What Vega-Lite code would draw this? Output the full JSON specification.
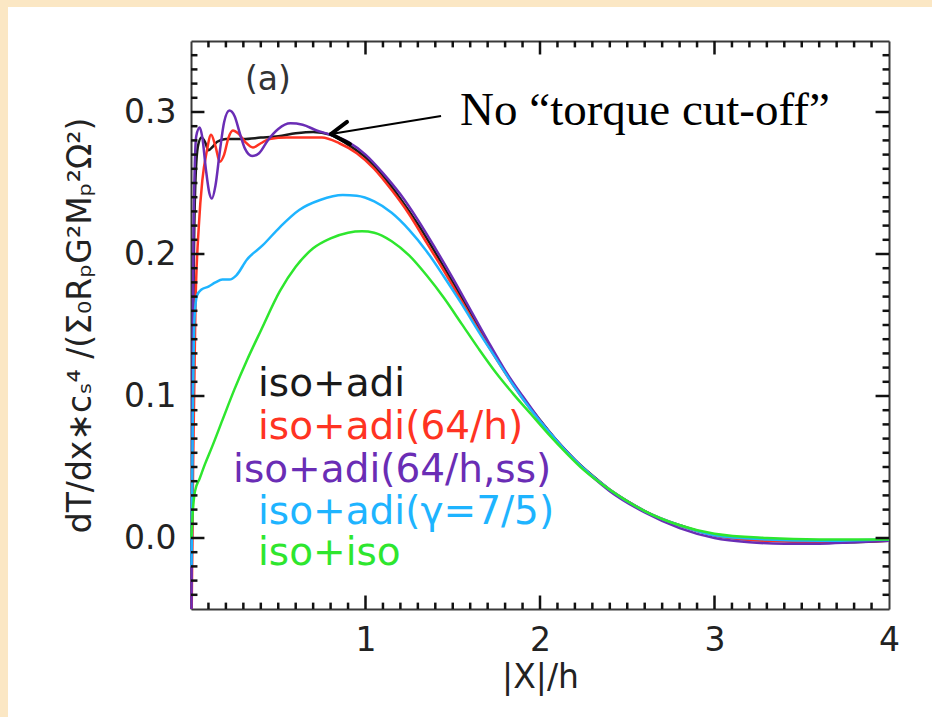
{
  "$schema": "https://vega.github.io/schema/vega-lite/v6.json",
  "width": 924,
  "height": 710,
  "autosize": {"type": "none"},
  "padding": {"left": 8, "top": 7, "right": 0, "bottom": 0},
  "background": "#fbe7c4",
  "config": {
    "view": {"fill": "white", "stroke": null},
    "axis": {
      "grid": false,
      "domainColor": "#3a3a3a",
      "domainWidth": 2,
      "labelFont": "DejaVu Sans",
      "labelFontSize": 33,
      "labelColor": "#222222",
      "titleFont": "DejaVu Sans",
      "titleFontSize": 33,
      "titleFontWeight": "normal",
      "titleColor": "#222222"
    }
  },
  "datasets": {
    "curves": [
      {"s":"a","x":0.003,"y":-0.05},{"s":"a","x":0.008,"y":0.06},{"s":"a","x":0.015,"y":0.18},{"s":"a","x":0.025,"y":0.25},{"s":"a","x":0.04,"y":0.276},{"s":"a","x":0.06,"y":0.282},{"s":"a","x":0.08,"y":0.279},{"s":"a","x":0.10,"y":0.273},{"s":"a","x":0.12,"y":0.275},{"s":"a","x":0.15,"y":0.279},{"s":"a","x":0.20,"y":0.281},{"s":"a","x":0.30,"y":0.281},{"s":"a","x":0.40,"y":0.282},{"s":"a","x":0.50,"y":0.283},{"s":"a","x":0.60,"y":0.285},{"s":"a","x":0.70,"y":0.286},{"s":"a","x":0.80,"y":0.284},{"s":"a","x":0.90,"y":0.277},{"s":"a","x":1.00,"y":0.268},{"s":"a","x":1.10,"y":0.255},{"s":"a","x":1.20,"y":0.239},{"s":"a","x":1.30,"y":0.221},{"s":"a","x":1.40,"y":0.201},{"s":"a","x":1.50,"y":0.180},{"s":"a","x":1.60,"y":0.159},{"s":"a","x":1.70,"y":0.137},{"s":"a","x":1.80,"y":0.117},{"s":"a","x":1.90,"y":0.099},{"s":"a","x":2.00,"y":0.083},{"s":"a","x":2.10,"y":0.068},{"s":"a","x":2.20,"y":0.055},{"s":"a","x":2.30,"y":0.044},{"s":"a","x":2.40,"y":0.034},{"s":"a","x":2.50,"y":0.026},{"s":"a","x":2.60,"y":0.019},{"s":"a","x":2.70,"y":0.013},{"s":"a","x":2.80,"y":0.009},{"s":"a","x":2.90,"y":0.005},{"s":"a","x":3.00,"y":0.002},{"s":"a","x":3.20,"y":-0.001},{"s":"a","x":3.40,"y":-0.002},{"s":"a","x":3.60,"y":-0.003},{"s":"a","x":3.80,"y":-0.003},{"s":"a","x":4.00,"y":-0.002},
      {"s":"b","x":0.004,"y":-0.05},{"s":"b","x":0.012,"y":0.05},{"s":"b","x":0.025,"y":0.16},{"s":"b","x":0.045,"y":0.22},{"s":"b","x":0.065,"y":0.252},{"s":"b","x":0.09,"y":0.272},{"s":"b","x":0.115,"y":0.284},{"s":"b","x":0.14,"y":0.276},{"s":"b","x":0.165,"y":0.265},{"s":"b","x":0.19,"y":0.270},{"s":"b","x":0.215,"y":0.282},{"s":"b","x":0.24,"y":0.287},{"s":"b","x":0.27,"y":0.285},{"s":"b","x":0.31,"y":0.279},{"s":"b","x":0.355,"y":0.275},{"s":"b","x":0.40,"y":0.278},{"s":"b","x":0.45,"y":0.281},{"s":"b","x":0.55,"y":0.282},{"s":"b","x":0.65,"y":0.282},{"s":"b","x":0.75,"y":0.282},{"s":"b","x":0.85,"y":0.278},{"s":"b","x":0.95,"y":0.271},{"s":"b","x":1.05,"y":0.260},{"s":"b","x":1.15,"y":0.245},{"s":"b","x":1.25,"y":0.228},{"s":"b","x":1.35,"y":0.208},{"s":"b","x":1.45,"y":0.188},{"s":"b","x":1.55,"y":0.167},{"s":"b","x":1.65,"y":0.146},{"s":"b","x":1.75,"y":0.126},{"s":"b","x":1.85,"y":0.107},{"s":"b","x":1.95,"y":0.090},{"s":"b","x":2.05,"y":0.075},{"s":"b","x":2.15,"y":0.061},{"s":"b","x":2.25,"y":0.049},{"s":"b","x":2.40,"y":0.034},{"s":"b","x":2.60,"y":0.019},{"s":"b","x":2.80,"y":0.009},{"s":"b","x":3.00,"y":0.002},{"s":"b","x":3.30,"y":-0.002},{"s":"b","x":3.60,"y":-0.003},{"s":"b","x":4.00,"y":-0.002},
      {"s":"c","x":0.003,"y":-0.05},{"s":"c","x":0.008,"y":0.10},{"s":"c","x":0.015,"y":0.22},{"s":"c","x":0.03,"y":0.283},{"s":"c","x":0.05,"y":0.289},{"s":"c","x":0.065,"y":0.282},{"s":"c","x":0.085,"y":0.260},{"s":"c","x":0.105,"y":0.243},{"s":"c","x":0.12,"y":0.239},{"s":"c","x":0.14,"y":0.248},{"s":"c","x":0.165,"y":0.272},{"s":"c","x":0.19,"y":0.293},{"s":"c","x":0.22,"y":0.301},{"s":"c","x":0.25,"y":0.297},{"s":"c","x":0.28,"y":0.285},{"s":"c","x":0.31,"y":0.274},{"s":"c","x":0.35,"y":0.269},{"s":"c","x":0.39,"y":0.271},{"s":"c","x":0.44,"y":0.280},{"s":"c","x":0.50,"y":0.288},{"s":"c","x":0.57,"y":0.292},{"s":"c","x":0.64,"y":0.291},{"s":"c","x":0.72,"y":0.287},{"s":"c","x":0.80,"y":0.284},{"s":"c","x":0.90,"y":0.279},{"s":"c","x":1.00,"y":0.270},{"s":"c","x":1.10,"y":0.257},{"s":"c","x":1.20,"y":0.242},{"s":"c","x":1.30,"y":0.224},{"s":"c","x":1.40,"y":0.204},{"s":"c","x":1.50,"y":0.183},{"s":"c","x":1.60,"y":0.161},{"s":"c","x":1.70,"y":0.139},{"s":"c","x":1.80,"y":0.118},{"s":"c","x":1.90,"y":0.100},{"s":"c","x":2.00,"y":0.083},{"s":"c","x":2.10,"y":0.068},{"s":"c","x":2.20,"y":0.055},{"s":"c","x":2.30,"y":0.043},{"s":"c","x":2.40,"y":0.033},{"s":"c","x":2.60,"y":0.018},{"s":"c","x":2.80,"y":0.007},{"s":"c","x":3.00,"y":0.000},{"s":"c","x":3.20,"y":-0.003},{"s":"c","x":3.40,"y":-0.004},{"s":"c","x":3.60,"y":-0.004},{"s":"c","x":3.80,"y":-0.003},{"s":"c","x":4.00,"y":-0.002},
      {"s":"d","x":0.003,"y":-0.02},{"s":"d","x":0.01,"y":0.08},{"s":"d","x":0.02,"y":0.155},{"s":"d","x":0.035,"y":0.171},{"s":"d","x":0.06,"y":0.175},{"s":"d","x":0.10,"y":0.177},{"s":"d","x":0.14,"y":0.180},{"s":"d","x":0.18,"y":0.182},{"s":"d","x":0.22,"y":0.182},{"s":"d","x":0.26,"y":0.185},{"s":"d","x":0.32,"y":0.196},{"s":"d","x":0.41,"y":0.206},{"s":"d","x":0.51,"y":0.219},{"s":"d","x":0.62,"y":0.231},{"s":"d","x":0.74,"y":0.238},{"s":"d","x":0.87,"y":0.2415},{"s":"d","x":0.95,"y":0.241},{"s":"d","x":1.05,"y":0.237},{"s":"d","x":1.15,"y":0.229},{"s":"d","x":1.25,"y":0.217},{"s":"d","x":1.35,"y":0.202},{"s":"d","x":1.45,"y":0.184},{"s":"d","x":1.55,"y":0.165},{"s":"d","x":1.65,"y":0.145},{"s":"d","x":1.75,"y":0.126},{"s":"d","x":1.85,"y":0.107},{"s":"d","x":1.95,"y":0.090},{"s":"d","x":2.05,"y":0.075},{"s":"d","x":2.15,"y":0.061},{"s":"d","x":2.25,"y":0.049},{"s":"d","x":2.40,"y":0.034},{"s":"d","x":2.60,"y":0.019},{"s":"d","x":2.80,"y":0.009},{"s":"d","x":3.00,"y":0.002},{"s":"d","x":3.30,"y":-0.001},{"s":"d","x":3.60,"y":-0.002},{"s":"d","x":4.00,"y":-0.001},
      {"s":"e","x":0.002,"y":0.0},{"s":"e","x":0.01,"y":0.018},{"s":"e","x":0.023,"y":0.033},{"s":"e","x":0.05,"y":0.042},{"s":"e","x":0.08,"y":0.052},{"s":"e","x":0.12,"y":0.064},{"s":"e","x":0.18,"y":0.083},{"s":"e","x":0.25,"y":0.105},{"s":"e","x":0.32,"y":0.125},{"s":"e","x":0.40,"y":0.146},{"s":"e","x":0.51,"y":0.174},{"s":"e","x":0.60,"y":0.191},{"s":"e","x":0.70,"y":0.204},{"s":"e","x":0.80,"y":0.211},{"s":"e","x":0.90,"y":0.215},{"s":"e","x":0.98,"y":0.216},{"s":"e","x":1.05,"y":0.215},{"s":"e","x":1.15,"y":0.209},{"s":"e","x":1.25,"y":0.199},{"s":"e","x":1.35,"y":0.185},{"s":"e","x":1.45,"y":0.169},{"s":"e","x":1.55,"y":0.151},{"s":"e","x":1.65,"y":0.133},{"s":"e","x":1.75,"y":0.116},{"s":"e","x":1.85,"y":0.101},{"s":"e","x":1.95,"y":0.087},{"s":"e","x":2.05,"y":0.073},{"s":"e","x":2.15,"y":0.060},{"s":"e","x":2.25,"y":0.048},{"s":"e","x":2.40,"y":0.034},{"s":"e","x":2.60,"y":0.019},{"s":"e","x":2.80,"y":0.009},{"s":"e","x":3.00,"y":0.003},{"s":"e","x":3.30,"y":0.000},{"s":"e","x":3.60,"y":-0.001},{"s":"e","x":4.00,"y":-0.001}
    ],
    "legend": [
      {"s":"a","label":"iso+adi","x":0.384,"y":0.1085},
      {"s":"b","label":"iso+adi(64/h)","x":0.384,"y":0.0782},
      {"s":"c","label":"iso+adi(64/h,ss)","x":0.241,"y":0.0479},
      {"s":"d","label":"iso+adi(γ=7/5)","x":0.384,"y":0.0183},
      {"s":"e","label":"iso+iso","x":0.384,"y":-0.0106}
    ],
    "xmajor": [{"v":1},{"v":2},{"v":3}],
    "xminor": [{"v":0.1},{"v":0.2},{"v":0.3},{"v":0.4},{"v":0.5},{"v":0.6},{"v":0.7},{"v":0.8},{"v":0.9},{"v":1.1},{"v":1.2},{"v":1.3},{"v":1.4},{"v":1.5},{"v":1.6},{"v":1.7},{"v":1.8},{"v":1.9},{"v":2.1},{"v":2.2},{"v":2.3},{"v":2.4},{"v":2.5},{"v":2.6},{"v":2.7},{"v":2.8},{"v":2.9},{"v":3.1},{"v":3.2},{"v":3.3},{"v":3.4},{"v":3.5},{"v":3.6},{"v":3.7},{"v":3.8},{"v":3.9}],
    "ymajor": [{"v":0},{"v":0.1},{"v":0.2},{"v":0.3}],
    "yminor": [{"v":-0.04},{"v":-0.03},{"v":-0.02},{"v":-0.01},{"v":0.01},{"v":0.02},{"v":0.03},{"v":0.04},{"v":0.05},{"v":0.06},{"v":0.07},{"v":0.08},{"v":0.09},{"v":0.11},{"v":0.12},{"v":0.13},{"v":0.14},{"v":0.15},{"v":0.16},{"v":0.17},{"v":0.18},{"v":0.19},{"v":0.21},{"v":0.22},{"v":0.23},{"v":0.24},{"v":0.25},{"v":0.26},{"v":0.27},{"v":0.28},{"v":0.29},{"v":0.31},{"v":0.32},{"v":0.33},{"v":0.34}]
  },
  "resolve": {"axis": {"x": "independent", "y": "independent"}},
  "layer": [
    {
      "data": {"name": "curves"},
      "mark": {"type": "line", "strokeWidth": 2.5, "interpolate": "monotone"},
      "encoding": {
        "x": {
          "field": "x", "type": "quantitative",
          "scale": {"domain": [0, 4], "range": [183, 881], "nice": false, "zero": false},
          "axis": {
            "orient": "bottom", "offset": -108, "title": "|X|/h", "titlePadding": 4,
            "values": [1, 2, 3, 4], "format": "d", "labelFlush": false,
            "ticks": false, "tickSize": 0, "labelPadding": 15
          }
        },
        "y": {
          "field": "y", "type": "quantitative",
          "scale": {"domain": [-0.05, 0.35], "range": [602, 34], "nice": false, "zero": false},
          "axis": {
            "orient": "left", "offset": -183, "title": "dT/dx∗cₛ⁴ /(Σ₀RₚG²Mₚ²Ω²)", "titlePadding": 26,
            "values": [0, 0.1, 0.2, 0.3], "format": ".1f", "labelFlush": false,
            "ticks": false, "tickSize": 0, "labelPadding": 15
          }
        },
        "color": {
          "field": "s", "type": "nominal",
          "scale": {"domain": ["a","b","c","d","e"], "range": ["#1a1a1a","#ff3322","#6a2db5","#1eb4ff","#2ee62e"]},
          "legend": null
        }
      }
    },
    {
      "data": {"name": "xmajor"},
      "mark": {"type": "rule", "strokeWidth": 2.5, "color": "#111111"},
      "encoding": {"x": {"field": "v", "type": "quantitative", "axis": null}, "y": {"datum": -0.05, "type": "quantitative", "axis": null}, "y2": {"datum": -0.0405}}
    },
    {
      "data": {"name": "xmajor"},
      "mark": {"type": "rule", "strokeWidth": 2.5, "color": "#111111"},
      "encoding": {"x": {"field": "v", "type": "quantitative", "axis": null}, "y": {"datum": 0.35, "type": "quantitative", "axis": null}, "y2": {"datum": 0.3405}}
    },
    {
      "data": {"name": "xminor"},
      "mark": {"type": "rule", "strokeWidth": 2.5, "color": "#111111"},
      "encoding": {"x": {"field": "v", "type": "quantitative", "axis": null}, "y": {"datum": -0.05, "type": "quantitative", "axis": null}, "y2": {"datum": -0.0455}}
    },
    {
      "data": {"name": "xminor"},
      "mark": {"type": "rule", "strokeWidth": 2.5, "color": "#111111"},
      "encoding": {"x": {"field": "v", "type": "quantitative", "axis": null}, "y": {"datum": 0.35, "type": "quantitative", "axis": null}, "y2": {"datum": 0.3455}}
    },
    {
      "data": {"name": "ymajor"},
      "mark": {"type": "rule", "strokeWidth": 2.5, "color": "#111111"},
      "encoding": {"y": {"field": "v", "type": "quantitative", "axis": null}, "x": {"datum": 0, "type": "quantitative", "axis": null}, "x2": {"datum": 0.077}}
    },
    {
      "data": {"name": "ymajor"},
      "mark": {"type": "rule", "strokeWidth": 2.5, "color": "#111111"},
      "encoding": {"y": {"field": "v", "type": "quantitative", "axis": null}, "x": {"datum": 4, "type": "quantitative", "axis": null}, "x2": {"datum": 3.923}}
    },
    {
      "data": {"name": "yminor"},
      "mark": {"type": "rule", "strokeWidth": 2.5, "color": "#111111"},
      "encoding": {"y": {"field": "v", "type": "quantitative", "axis": null}, "x": {"datum": 0, "type": "quantitative", "axis": null}, "x2": {"datum": 0.037}}
    },
    {
      "data": {"name": "yminor"},
      "mark": {"type": "rule", "strokeWidth": 2.5, "color": "#111111"},
      "encoding": {"y": {"field": "v", "type": "quantitative", "axis": null}, "x": {"datum": 4, "type": "quantitative", "axis": null}, "x2": {"datum": 3.963}}
    },
    {
      "data": {"name": "legend"},
      "mark": {"type": "text", "align": "left", "baseline": "middle", "font": "DejaVu Sans", "fontSize": 39},
      "encoding": {
        "x": {"field": "x", "type": "quantitative", "axis": null},
        "y": {"field": "y", "type": "quantitative", "axis": null},
        "text": {"field": "label"},
        "color": {"field": "s", "type": "nominal", "legend": null}
      }
    },
    {
      "data": {"values": [{"t": "(a)", "x": 0.309, "y": 0.3225}]},
      "mark": {"type": "text", "align": "left", "baseline": "middle", "font": "DejaVu Sans", "fontSize": 33, "color": "#333333"},
      "encoding": {
        "x": {"field": "x", "type": "quantitative", "axis": null},
        "y": {"field": "y", "type": "quantitative", "axis": null},
        "text": {"field": "t"}
      }
    },
    {
      "data": {"values": [{"t": "No “torque cut-off”", "x": 1.542, "y": 0.2908}]},
      "mark": {"type": "text", "align": "left", "baseline": "alphabetic", "font": "Liberation Serif", "fontSize": 47, "color": "#000000"},
      "encoding": {
        "x": {
          "field": "x", "type": "quantitative",
          "axis": {"orient": "top", "offset": -34, "title": null, "labels": false, "ticks": false, "values": [1]}
        },
        "y": {
          "field": "y", "type": "quantitative",
          "axis": {"orient": "right", "offset": -43, "title": null, "labels": false, "ticks": false, "values": [0]}
        },
        "text": {"field": "t"}
      }
    },
    {
      "data": {"values": [{"x": 0.802, "y": 0.2845, "x2": 1.433, "y2": 0.2972}]},
      "mark": {"type": "rule", "strokeWidth": 2, "color": "#000000"},
      "encoding": {
        "x": {"field": "x", "type": "quantitative", "axis": null},
        "y": {"field": "y", "type": "quantitative", "axis": null},
        "x2": {"field": "x2"},
        "y2": {"field": "y2"}
      }
    },
    {
      "data": {"values": [{"x": 0.802, "y": 0.2845, "x2": 0.894, "y2": 0.2930}, {"x": 0.802, "y": 0.2845, "x2": 0.911, "y2": 0.2775}]},
      "mark": {"type": "rule", "strokeWidth": 4, "strokeCap": "round", "color": "#000000"},
      "encoding": {
        "x": {"field": "x", "type": "quantitative", "axis": null},
        "y": {"field": "y", "type": "quantitative", "axis": null},
        "x2": {"field": "x2"},
        "y2": {"field": "y2"}
      }
    }
  ]
}
